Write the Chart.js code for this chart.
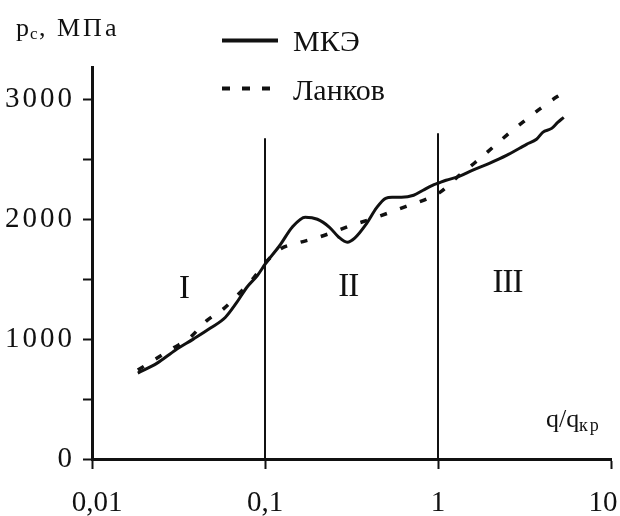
<!DOCTYPE html>
<html>
<head>
<meta charset="utf-8">
<style>
  html, body { margin: 0; padding: 0; background: #fff; }
  #wrap { width: 620px; height: 516px; }
</style>
<script src="https://cdn.jsdelivr.net/npm/chart.js@4/dist/chart.umd.min.js"></script>
</head>
<body>
<div id="wrap"><canvas id="c" width="620" height="516"></canvas></div>
<script>
// Relative heat flux q/q_kp and pressure p_c (MPa): finite-element result
const qFem = [0.0184, 0.0238, 0.0303, 0.0385, 0.0484, 0.0591, 0.0682, 0.0786, 0.0906, 0.101,
              0.122, 0.1436, 0.1707, 0.2008, 0.236, 0.267, 0.299, 0.330, 0.388, 0.440,
              0.498, 0.543, 0.615, 0.723, 0.820, 0.929, 1.0, 1.113, 1.325, 1.577,
              1.98, 2.49, 2.96, 3.25, 3.71, 4.03, 4.54, 4.92, 5.33];
const pFem = [717, 800, 908, 1000, 1092, 1183, 1300, 1433, 1533, 1633,
              1783, 1933, 2017, 2000, 1933, 1850, 1808, 1842, 1967, 2092,
              2175, 2183, 2183, 2200, 2242, 2283, 2300, 2325, 2358, 2408,
              2467, 2533, 2592, 2625, 2667, 2725, 2758, 2808, 2850];

// Lankov's dependence
const qLankov = [0.0184, 0.0238, 0.0294, 0.0365, 0.0457, 0.0582, 0.0711, 0.0867, 0.1, 0.122,
                 0.153, 0.196, 0.248, 0.318, 0.408, 0.511, 0.655, 0.830, 1.04, 1.29,
                 1.62, 1.98, 2.49, 3.08, 3.92, 4.92, 5.19];
const pLankov = [742, 842, 925, 1008, 1150, 1258, 1383, 1517, 1633, 1750,
                 1800, 1842, 1892, 1950, 2000, 2050, 2108, 2160, 2230, 2350,
                 2467, 2575, 2700, 2808, 2925, 3025, 3042];

// Zone boundaries (vertical lines) and their heights
const zoneBounds = [0.1, 1];
const zoneBoundTop = [2675, 2717];

// Zone numerals and where they sit (q, p)
const zoneNames = ['I', 'II', 'III'];
const zoneLabelQ = [0.034, 0.303, 2.52];
const zoneLabelP = [1342, 1358, 1392];

// Axis ticks
const xTickValues = [0.01, 0.1, 1, 10];
const xTickLabels = ['0,01', '0,1', '1', '10'];
const yTickValues = [0, 500, 1000, 1500, 2000, 2500, 3000];
const yTickLabels = ['0', '', '1000', '', '2000', '', '3000'];
const yMax = 3270;

const seriesNames = ['МКЭ', 'Ланков'];

const SERIF = '"Liberation Serif", "Times New Roman", serif';
const INK = '#111';
// nudge for the outermost x labels so "10" stays inside the canvas
const X_LABEL_NUDGE = [5, 0, 0, -8];

const toPoints = (xs, ys) => xs.map((x, i) => ({ x, y: ys[i] }));

const datasets = [
  {
    label: seriesNames[0],
    data: toPoints(qFem, pFem),
    borderColor: INK,
    borderWidth: 3,
    pointRadius: 0,
    cubicInterpolationMode: 'monotone',
    fill: false
  },
  {
    label: seriesNames[1],
    data: toPoints(qLankov, pLankov),
    borderColor: INK,
    borderWidth: 3.5,
    borderDash: [7, 14],
    borderCapStyle: 'butt',
    pointRadius: 0,
    cubicInterpolationMode: 'monotone',
    fill: false
  }
];
zoneBounds.forEach((q, i) => {
  datasets.push({
    label: 'boundary' + i,
    data: [{ x: q, y: 0 }, { x: q, y: zoneBoundTop[i] }],
    borderColor: INK,
    borderWidth: 2,
    pointRadius: 0,
    fill: false
  });
});

// Text decorations: axis titles, legend and zone numerals
const decorations = {
  id: 'decorations',
  afterDraw(chart) {
    const ctx = chart.ctx;
    const xs = chart.scales.x, ys = chart.scales.y;
    ctx.save();
    ctx.fillStyle = INK;
    ctx.textAlign = 'left';
    ctx.textBaseline = 'alphabetic';

    // y axis title: p_c, МПа
    ctx.font = '26px ' + SERIF;
    ctx.fillText('p', 16, 36);
    ctx.font = '17px ' + SERIF;
    ctx.fillText('c', 30, 39);
    ctx.font = '26px ' + SERIF;
    ctx.fillText(',', 39, 36);
    ctx.letterSpacing = '3px';
    ctx.fillText('МПа', 57, 36);
    ctx.letterSpacing = '0px';

    // x axis title: q/q_kp
    ctx.font = '26px ' + SERIF;
    ctx.fillText('q/q', 546, 427);
    ctx.font = '18px ' + SERIF;
    ctx.letterSpacing = '2px';
    ctx.fillText('кр', 579, 431);
    ctx.letterSpacing = '0px';

    // legend
    const legendRows = [
      { y: 40.5, x2: 278, dash: [], text: 51 },
      { y: 88.5, x2: 272, dash: [8, 12], text: 100 }
    ];
    legendRows.forEach((row, i) => {
      ctx.strokeStyle = INK;
      ctx.lineWidth = 4;
      ctx.lineCap = 'butt';
      ctx.setLineDash(row.dash);
      ctx.beginPath();
      ctx.moveTo(222, row.y);
      ctx.lineTo(row.x2, row.y);
      ctx.stroke();
      ctx.setLineDash([]);
      ctx.font = '30px ' + SERIF;
      ctx.fillText(chart.data.datasets[i].label, 293, row.text);
    });

    // zone numerals (serifs of adjacent strokes meet)
    ctx.textAlign = 'center';
    ctx.font = '33px ' + SERIF;
    ctx.letterSpacing = '-1px';
    zoneNames.forEach((name, i) => {
      ctx.fillText(name, xs.getPixelForValue(zoneLabelQ[i]), ys.getPixelForValue(zoneLabelP[i]));
    });
    ctx.letterSpacing = '0px';
    ctx.restore();
  }
};

new Chart(document.getElementById('c'), {
  type: 'line',
  data: { datasets },
  options: {
    responsive: false,
    animation: false,
    devicePixelRatio: 1,
    layout: { padding: { left: 0, right: 9, top: 67, bottom: 0 } },
    plugins: {
      legend: { display: false },
      tooltip: { enabled: false },
      title: { display: false }
    },
    scales: {
      x: {
        type: 'logarithmic',
        min: 0.01,
        max: 10,
        afterBuildTicks: (scale) => { scale.ticks = xTickValues.map(v => ({ value: v })); },
        afterFit: (scale) => {
          scale.height = 57;
          scale.paddingLeft = 0;
          scale.paddingRight = 0;
          if (!scale._nudged) {
            const base = scale._computeLabelItems;
            scale._computeLabelItems = function (area) {
              const items = base.call(this, area);
              items.forEach((it, i) => {
                if (it.options && it.options.translation) {
                  it.options.translation[0] += X_LABEL_NUDGE[i] || 0;
                }
              });
              return items;
            };
            scale._nudged = true;
          }
        },
        ticks: {
          autoSkip: false,
          maxRotation: 0,
          minRotation: 0,
          padding: 17,
          color: INK,
          font: { family: SERIF, size: 29 },
          callback: (v, i) => xTickLabels[i]
        },
        grid: {
          display: true,
          drawOnChartArea: false,
          drawTicks: true,
          tickLength: 10,
          tickWidth: 2,
          tickColor: INK
        },
        border: { display: true, color: INK, width: 3 }
      },
      y: {
        type: 'linear',
        min: 0,
        max: yMax,
        afterBuildTicks: (scale) => { scale.ticks = yTickValues.map(v => ({ value: v })); },
        afterFit: (scale) => {
          scale.width = 92;
          scale.paddingTop = 0;
          scale.paddingBottom = 0;
          if (!scale._spaced) {
            const base = scale.drawLabels;
            scale.drawLabels = function (area) {
              const c = this.ctx;
              c.save();
              c.letterSpacing = '3px';
              base.call(this, area);
              c.restore();
            };
            scale._spaced = true;
          }
        },
        ticks: {
          padding: 8,
          color: INK,
          font: { family: SERIF, size: 29 },
          callback: (v, i) => yTickLabels[i]
        },
        grid: {
          display: true,
          drawOnChartArea: false,
          drawTicks: true,
          tickLength: 9,
          tickWidth: 2,
          tickColor: INK
        },
        border: { display: true, color: INK, width: 3 }
      }
    }
  },
  plugins: [decorations]
});
</script>
</body>
</html>
